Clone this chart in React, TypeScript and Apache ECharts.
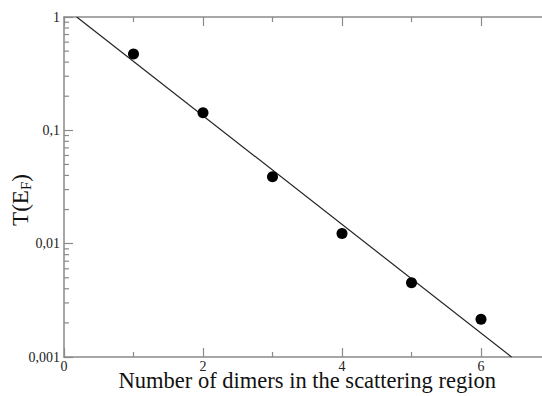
import { useEffect, useRef } from "react";
import * as echarts from "echarts";

const dimers = [1, 2, 3, 4, 5, 6];
const transmission = [0.471, 0.143, 0.039, 0.0123, 0.00452, 0.00215];
const fitStart = [0.183, 1];
const fitEnd = [6.44, 0.001];
const yTickLabels = ["0,001", "0,01", "0,1", "1"]; // exponents -3..0
const yDecades = [0.001, 0.01, 0.1];
const yMinorMultipliers = [2, 3, 4, 5, 6, 7, 8, 9];

const FONT = "'Liberation Serif', 'DejaVu Serif', serif";
const AXIS_COLOR = "#8a8a8a";

export default function App() {
  const ref = useRef<HTMLDivElement>(null);
  useEffect(() => {
    if (!ref.current) return;
    const chart = echarts.init(ref.current, undefined, { renderer: "svg" });
    const minorVals: number[][] = [];
    yDecades.forEach((d) => yMinorMultipliers.forEach((m) => minorVals.push([0, d * m])));

    const xCommon = {
      type: "value" as const,
      min: 0,
      max: 7,
      interval: 2,
      splitLine: { show: false },
      axisLine: { show: true, lineStyle: { color: AXIS_COLOR, width: 1.5 } },
      axisTick: { show: true, inside: true, length: 9, lineStyle: { color: AXIS_COLOR, width: 1.2 } },
      minorTick: { show: true, splitNumber: 2, length: 5, lineStyle: { color: AXIS_COLOR, width: 1.2 } },
    };

    chart.setOption({
      animation: false,
      backgroundColor: "#ffffff",
      textStyle: { fontFamily: FONT },
      grid: {
        left: 64,
        top: 17,
        width: 486.5,
        height: 340,
        containLabel: false,
        outerBoundsMode: "none",
      },
      xAxis: [
        {
          ...xCommon,
          position: "bottom",
          name: "Number of dimers in the scattering region",
          nameLocation: "middle",
          nameGap: 12,
          nameMoveOverlap: false,
          nameTextStyle: { fontFamily: FONT, fontSize: 22.5, color: "#111" },
          axisLabel: {
            fontFamily: FONT,
            fontSize: 14,
            color: "#222",
            margin: 2,
            showMaxLabel: false,
          },
        },
        {
          ...xCommon,
          position: "top",
          axisLabel: { show: false },
        },
      ],
      yAxis: {
        type: "log",
        logBase: 10,
        min: 0.001,
        max: 1,
        splitLine: { show: false },
        axisLine: { show: true, lineStyle: { color: AXIS_COLOR, width: 1.5 } },
        axisTick: { show: true, inside: true, length: 9, lineStyle: { color: AXIS_COLOR, width: 1.2 } },
        minorTick: { show: false },
        axisLabel: {
          fontFamily: FONT,
          fontSize: 14,
          color: "#222",
          margin: 4,
          formatter: (v: number) => yTickLabels[Math.round(Math.log10(v)) + 3] ?? "",
        },
        name: "T(E{sub|F})",
        nameLocation: "middle",
        nameRotate: 90,
        nameGap: 31,
        nameMoveOverlap: false,
        nameTextStyle: {
          fontFamily: FONT,
          fontSize: 23,
          color: "#111",
          padding: [0, 26, 0, 0],
          rich: {
            sub: { fontFamily: FONT, fontSize: 15, color: "#111", verticalAlign: "bottom", padding: [11, 0, 0, 0] },
          },
        },
      },
      series: [
        {
          type: "line",
          data: [fitStart, fitEnd],
          showSymbol: false,
          symbol: "none",
          lineStyle: { color: "#222", width: 1.2 },
          z: 2,
        },
        {
          type: "scatter",
          data: dimers.map((d, i) => [d, transmission[i]]),
          symbol: "circle",
          symbolSize: 11,
          itemStyle: { color: "#000", opacity: 1 },
          z: 3,
        },
        {
          type: "custom",
          data: minorVals,
          silent: true,
          clip: false,
          renderItem: (_params: any, api: any) => {
            const p = api.coord([0, api.value(1)]);
            return {
              type: "line",
              shape: { x1: p[0], y1: p[1], x2: p[0] + 5, y2: p[1] },
              style: { stroke: AXIS_COLOR, lineWidth: 1.2 },
            };
          },
          z: 1,
        },
      ],
    });
    return () => chart.dispose();
  }, []);
  return (
    <div
      ref={ref}
      style={{ position: "fixed", left: 0, top: 0, width: 542, height: 396 }}
    />
  );
}
